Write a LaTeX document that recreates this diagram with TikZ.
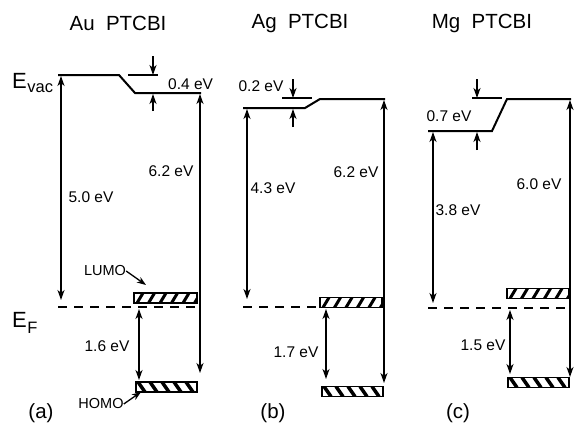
\documentclass[tikz,border=0pt]{standalone}
\usepackage{fontspec}
\setmainfont{Liberation Sans}
\usetikzlibrary{arrows.meta}
\begin{document}
\begin{tikzpicture}[x=1pt,y=-1pt,
  level/.style={line width=2pt,line join=miter},
  fermi/.style={line width=1.8pt,dash pattern=on 9pt off 7pt},
  dbl/.style={line width=1.5pt,{Stealth[length=10pt,width=7pt,inset=3pt]}-{Stealth[length=10pt,width=7pt,inset=3pt]}},
  sgl/.style={line width=1.5pt,-{Stealth[length=10pt,width=7pt,inset=3pt]}},
  ptr/.style={line width=1.3pt,-{Stealth[length=9pt,width=6.5pt,inset=2.5pt]}},
  lbl/.style={inner sep=0pt,font=\fontsize{15.5}{15.5}\selectfont},
  ttl/.style={inner sep=0pt,font=\fontsize{20.5}{20.5}\selectfont},
  orb/.style={inner sep=0pt,font=\fontsize{14.5}{14.5}\selectfont},
  lumobox/.style={draw,line width=1.4pt,inner sep=0pt,minimum height=10pt,
    path picture={\foreach \k in {-1,...,6}{\draw[line width=3pt]
      ([xshift=\k*11.5pt+3pt]path picture bounding box.south west) -- ++(6pt,10pt);}}},
  homobox/.style={draw,line width=1.4pt,inner sep=0pt,minimum height=10pt,
    path picture={\foreach \k in {-1,...,6}{\draw[line width=3.5pt]
      ([xshift=\k*12pt+2pt]path picture bounding box.north west) -- ++(7pt,-10pt);}}}
]
\useasboundingbox (0,0) rectangle (574,434);

% titles
\node[ttl] (ta) at (118,23) {Au~~PTCBI};
\node[ttl] (tb) at (300,23) {Ag~~PTCBI};
\node[ttl] (tc) at (482,23) {Mg~~PTCBI};

% side labels
\node[inner sep=0pt,anchor=base west] (evac) at (12,88)
  {\fontsize{22}{22}\selectfont E\kern0.5pt\raisebox{-4pt}{\fontsize{16.5}{16.5}\selectfont vac}};
\node[inner sep=0pt,anchor=base west] (ef) at (12,327)
  {\fontsize{22}{22}\selectfont E\kern0.5pt\raisebox{-6pt}{\fontsize{16.5}{16.5}\selectfont F}};

% panel labels
\node[ttl] (pa) at (41,413) {(a)};
\node[ttl] (pb) at (273,413) {(b)};
\node[ttl] (pc) at (458,413) {(c)};

%%%%%%%%%% panel (a)
\coordinate (a1) at (58,75);  \coordinate (a2) at (119,75);
\coordinate (a3) at (135,93); \coordinate (a4) at (201,93);
\draw[level] (a1) -- (a2) -- (a3) -- (a4);
\coordinate (at1) at (128,75); \coordinate (at2) at (158,75);
\draw[level] (at1) -- (at2);
\coordinate (ad0) at (153,56); \coordinate (ad1) at (153,75);
\coordinate (au0) at (153,111); \coordinate (au1) at (153,94);
\draw[sgl] (ad0) -- (ad1);
\draw[sgl] (au0) -- (au1);
\node[lbl,anchor=west] (l04) at (168,84) {0.4 eV};

\coordinate (af1) at (58,307); \coordinate (af2) at (198,307);
\draw[fermi] (af1) -- (af2);

\node[lumobox,minimum width=63pt] (la) at (165.5,298) {};
\node[homobox,minimum width=61pt] (ha) at (166.5,387) {};

\coordinate (aL1) at (61,76);  \coordinate (aL2) at (61,300);
\draw[dbl] (aL1) -- (aL2);
\node[lbl] (l50) at (91,197) {5.0 eV};
\coordinate (aR1) at (200,94); \coordinate (aR2) at (200,373);
\draw[dbl] (aR1) -- (aR2);
\node[lbl] (l62a) at (171,171) {6.2 eV};
\coordinate (aG1) at (139,309); \coordinate (aG2) at (139,380);
\draw[dbl] (aG1) -- (aG2);
\node[lbl] (l16) at (107,346) {1.6 eV};

\node[orb] (lumo) at (105,271) {LUMO};
\coordinate (lp) at (146,285);
\draw[ptr] (lumo.east) -- (lp);
\node[orb] (homo) at (101,404) {HOMO};
\coordinate (hp) at (141,392);
\draw[ptr] (homo.east) -- (hp);

%%%%%%%%%% panel (b)
\coordinate (b1) at (243,108); \coordinate (b2) at (305,108);
\coordinate (b3) at (320,99);  \coordinate (b4) at (385,99);
\draw[level] (b1) -- (b2) -- (b3) -- (b4);
\coordinate (bt1) at (282,98); \coordinate (bt2) at (312,98);
\draw[level] (bt1) -- (bt2);
\coordinate (bd0) at (293,79); \coordinate (bd1) at (293,98);
\coordinate (bu0) at (293,127); \coordinate (bu1) at (293,109);
\draw[sgl] (bd0) -- (bd1);
\draw[sgl] (bu0) -- (bu1);
\node[lbl] (l02) at (261,86) {0.2 eV};

\coordinate (bf1) at (243,307); \coordinate (bf2) at (320,307);
\draw[fermi] (bf1) -- (bf2);

\node[lumobox,minimum width=62pt] (lb) at (351,302.5) {};
\node[homobox,minimum width=61pt] (hb) at (352.5,391.5) {};

\coordinate (bL1) at (247,109); \coordinate (bL2) at (247,299);
\draw[dbl] (bL1) -- (bL2);
\node[lbl] (l43) at (273,188) {4.3 eV};
\coordinate (bR1) at (384,100); \coordinate (bR2) at (384,383);
\draw[dbl] (bR1) -- (bR2);
\node[lbl] (l62b) at (356,172) {6.2 eV};
\coordinate (bG1) at (326,309); \coordinate (bG2) at (326,379);
\draw[dbl] (bG1) -- (bG2);
\node[lbl] (l17) at (296,352) {1.7 eV};

%%%%%%%%%% panel (c)
\coordinate (c1) at (428,131); \coordinate (c2) at (492,131);
\coordinate (c3) at (507,99);  \coordinate (c4) at (571,99);
\draw[level] (c1) -- (c2) -- (c3) -- (c4);
\coordinate (ct1) at (472,98); \coordinate (ct2) at (502,98);
\draw[level] (ct1) -- (ct2);
\coordinate (cd0) at (477,79); \coordinate (cd1) at (477,98);
\coordinate (cu0) at (477,150); \coordinate (cu1) at (477,132);
\draw[sgl] (cd0) -- (cd1);
\draw[sgl] (cu0) -- (cu1);
\node[lbl] (l07) at (449,116) {0.7 eV};

\coordinate (cf1) at (428,308); \coordinate (cf2) at (570,308);
\draw[fermi] (cf1) -- (cf2);

\node[lumobox,minimum width=62pt] (lc) at (538,293.5) {};
\node[homobox,minimum width=61pt] (hc) at (538.5,382.5) {};

\coordinate (cL1) at (433,132); \coordinate (cL2) at (433,303);
\draw[dbl] (cL1) -- (cL2);
\node[lbl] (l38) at (458,210) {3.8 eV};
\coordinate (cR1) at (570,100); \coordinate (cR2) at (570,377);
\draw[dbl] (cR1) -- (cR2);
\node[lbl] (l60) at (539,184) {6.0 eV};
\coordinate (cG1) at (510,310); \coordinate (cG2) at (510,374);
\draw[dbl] (cG1) -- (cG2);
\node[lbl] (l15) at (483,345) {1.5 eV};
\end{tikzpicture}
\end{document}
